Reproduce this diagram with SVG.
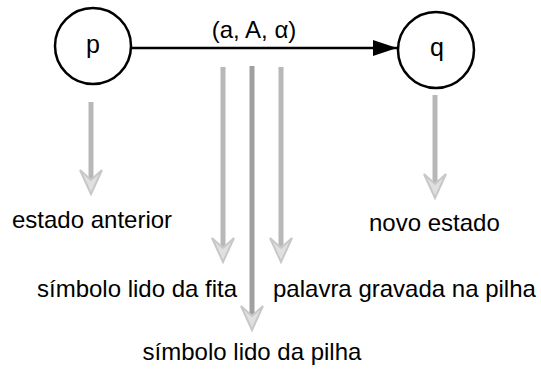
<svg xmlns="http://www.w3.org/2000/svg" width="541" height="370" viewBox="0 0 541 370">
<defs>
<style>
.node{fill:#fff;stroke:#000;stroke-width:2.5}
.nl{font-family:"Liberation Sans",Arial,sans-serif;font-size:25px;fill:#000;text-anchor:middle}
.lbl{font-family:"Liberation Sans",Arial,sans-serif;font-size:24px;fill:#000}
.edge{stroke:#000;stroke-width:2.5;fill:none}
.shaft{stroke:#b8b8b8;stroke-width:5;fill:none}
.shaft.dark{stroke:#a0a0a0}
.head{stroke:#c8c8c8;stroke-width:2;fill:#e0e0e0;stroke-linejoin:miter}
</style>
<marker id="ah" markerWidth="24" markerHeight="18" refX="24" refY="9" orient="auto" markerUnits="userSpaceOnUse">
<path d="M0,1 L24,9 L0,17 Z" fill="#000"/>
</marker>
</defs>
<rect width="541" height="370" fill="#fff"/>
<g id="connectors">
<line class="edge" x1="131" y1="48" x2="397" y2="48" marker-end="url(#ah)"/>
<text class="lbl" x="254" y="38" text-anchor="middle">(a, A, α)</text>
</g>
<g id="node-p">
<circle class="node" cx="93" cy="46" r="38"/>
<text class="nl" x="93" y="53">p</text>
</g>
<g id="node-q">
<circle class="node" cx="436" cy="50" r="38"/>
<text class="nl" x="437" y="56">q</text>
</g>
<g id="annotations">
<g id="ann-estado-anterior">
<line class="shaft" x1="91" y1="102" x2="91" y2="188"/>
<path class="head" d="M80,170 L91,194 L102,170 L91,180 Z"/>
<text class="lbl" x="12" y="228">estado anterior</text>
</g>
<g id="ann-novo-estado">
<line class="shaft" x1="435" y1="95" x2="435" y2="192"/>
<path class="head" d="M424,174 L435,198 L446,174 L435,184 Z"/>
<text class="lbl" x="369" y="231">novo estado</text>
</g>
<g id="ann-fita">
<line class="shaft" x1="223" y1="67" x2="223" y2="256"/>
<path class="head" d="M212,238 L223,262 L234,238 L223,248 Z"/>
<text class="lbl" x="37" y="297">símbolo lido da fita</text>
</g>
<g id="ann-pilha-lido">
<line class="shaft dark" x1="252" y1="66" x2="252" y2="324"/>
<path class="head" d="M241,306 L252,330 L263,306 L252,316 Z"/>
<text class="lbl" x="252" y="360" text-anchor="middle">símbolo lido da pilha</text>
</g>
<g id="ann-palavra">
<line class="shaft" x1="281" y1="67" x2="281" y2="256"/>
<path class="head" d="M270,238 L281,262 L292,238 L281,248 Z"/>
<text class="lbl" x="273" y="297">palavra gravada na pilha</text>
</g>
</g>
</svg>
